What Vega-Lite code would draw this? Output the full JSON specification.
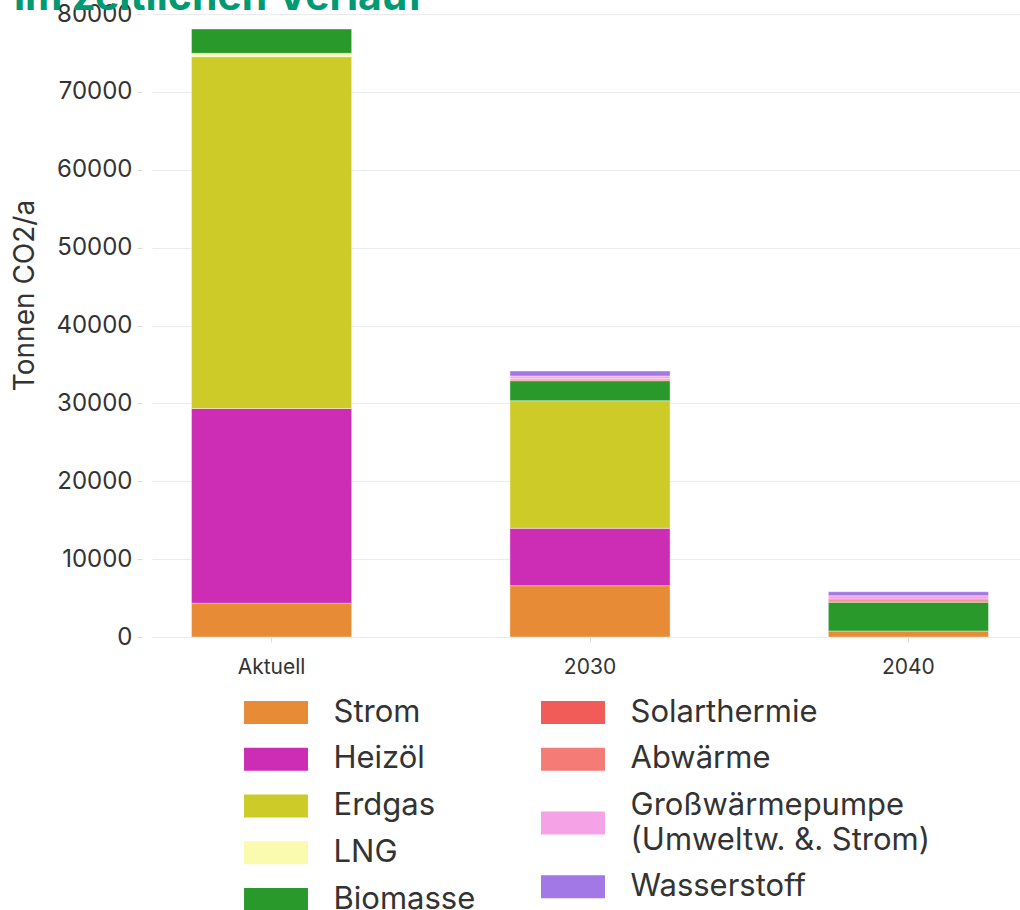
{
  "$schema": "https://vega.github.io/schema/vega-lite/v6.json",
  "width": 876,
  "height": 623,
  "autosize": {"type": "none"},
  "padding": {"left": 152, "top": 14, "right": -8, "bottom": 273},
  "background": "white",
  "config": {
    "font": "Inter",
    "view": {"stroke": null},
    "axis": {"labelColor": "#333333", "titleColor": "#333333", "titleFontWeight": "normal", "domain": false, "tickColor": "#dddddd", "tickSize": 5, "gridColor": "#ebebeb", "gridWidth": 1}
  },
  "title": {
    "text": "im zeitlichen Verlauf",
    "anchor": "start",
    "frame": "group",
    "orient": "top",
    "fontSize": 41,
    "fontWeight": "bold",
    "color": "#009a72",
    "baseline": "alphabetic",
    "offset": -49,
    "dx": -138
  },
  "data": {
    "values": [
      {"period": "Aktuell", "source": "Strom", "value": 4330, "rank": 1},
      {"period": "Aktuell", "source": "Heizöl", "value": 25010, "rank": 2},
      {"period": "Aktuell", "source": "Erdgas", "value": 45180, "rank": 3},
      {"period": "Aktuell", "source": "LNG", "value": 430, "rank": 4},
      {"period": "Aktuell", "source": "Biomasse", "value": 3120, "rank": 5},
      {"period": "2030", "source": "Strom", "value": 6590, "rank": 1},
      {"period": "2030", "source": "Heizöl", "value": 7370, "rank": 2},
      {"period": "2030", "source": "Erdgas", "value": 16380, "rank": 3},
      {"period": "2030", "source": "Biomasse", "value": 2570, "rank": 5},
      {"period": "2030", "source": "Solarthermie", "value": 120, "rank": 6},
      {"period": "2030", "source": "Abwärme", "value": 180, "rank": 7},
      {"period": "2030", "source": "Großwärmepumpe (Umweltw. &. Strom)", "value": 300, "rank": 8},
      {"period": "2030", "source": "Wasserstoff", "value": 640, "rank": 9},
      {"period": "2040", "source": "Strom", "value": 770, "rank": 1},
      {"period": "2040", "source": "Biomasse", "value": 3690, "rank": 5},
      {"period": "2040", "source": "Solarthermie", "value": 160, "rank": 6},
      {"period": "2040", "source": "Abwärme", "value": 260, "rank": 7},
      {"period": "2040", "source": "Großwärmepumpe (Umweltw. &. Strom)", "value": 420, "rank": 8},
      {"period": "2040", "source": "Wasserstoff", "value": 510, "rank": 9}
    ]
  },
  "encoding": {
    "x": {
      "field": "period",
      "type": "nominal",
      "sort": ["Aktuell", "2030", "2040"],
      "scale": {"paddingInner": 0.497, "paddingOuter": 0.124},
      "axis": {"title": null, "labelAngle": 0, "labelFontSize": 21, "labelPadding": 14, "grid": false}
    },
    "y": {
      "field": "value",
      "type": "quantitative",
      "scale": {"domain": [0, 80000], "nice": false},
      "axis": {
        "title": "Tonnen CO2/a",
        "titleFontSize": 28,
        "titleBaseline": "middle",
        "titleX": -117,
        "titleY": 281,
        "values": [0, 10000, 20000, 30000, 40000, 50000, 60000, 70000, 80000],
        "format": "d",
        "labelFontSize": 24,
        "labelPadding": 5,
        "offset": 10
      }
    }
  },
  "layer": [
    {
      "mark": {"type": "bar", "stroke": "white", "strokeWidth": 1, "strokeOpacity": 0.4},
      "encoding": {
        "color": {
          "field": "source",
          "type": "nominal",
          "scale": {
            "domain": ["Strom", "Heizöl", "Erdgas", "LNG", "Biomasse", "Solarthermie", "Abwärme", "Großwärmepumpe (Umweltw. &. Strom)", "Wasserstoff"],
            "range": ["#e78b36", "#cd2db4", "#cdcb28", "#fbfbb0", "#2a992b", "#f15b58", "#f57b77", "#f5a3e6", "#a277e6"]
          },
          "legend": null
        },
        "order": {"field": "rank", "type": "quantitative"}
      }
    },
    {
      "transform": [{"filter": {"field": "source", "oneOf": ["Strom", "Heizöl", "Erdgas", "LNG", "Biomasse"]}}],
      "mark": {"type": "bar", "opacity": 0},
      "encoding": {
        "color": {
          "field": "source",
          "type": "nominal",
          "scale": {
            "domain": ["Strom", "Heizöl", "Erdgas", "LNG", "Biomasse"],
            "range": ["#e78b36", "#cd2db4", "#cdcb28", "#fbfbb0", "#2a992b"]
          },
          "legend": {
            "orient": "none",
            "legendX": 88,
            "legendY": 683,
            "title": null,
            "direction": "vertical",
            "padding": 0,
            "symbolType": "M-2.78,-1H2.78V1H-2.78Z",
            "symbolSize": 529,
            "symbolOffset": 20.5,
            "symbolOpacity": 1,
            "symbolStrokeWidth": 0,
            "labelOffset": 42,
            "labelFontSize": 31,
            "labelColor": "#333333",
            "labelLimit": 400,
            "rowPadding": 14.75
          }
        },
        "order": {"field": "rank", "type": "quantitative"}
      }
    },
    {
      "transform": [{"filter": {"field": "source", "oneOf": ["Solarthermie", "Abwärme", "Großwärmepumpe (Umweltw. &. Strom)", "Wasserstoff"]}}],
      "mark": {"type": "bar", "opacity": 0},
      "encoding": {
        "color": {
          "field": "source",
          "type": "nominal",
          "scale": {
            "domain": ["Solarthermie", "Abwärme", "Großwärmepumpe (Umweltw. &. Strom)", "Wasserstoff"],
            "range": ["#f15b58", "#f57b77", "#f5a3e6", "#a277e6"]
          },
          "legend": {
            "orient": "none",
            "legendX": 385,
            "legendY": 683,
            "title": null,
            "direction": "vertical",
            "padding": 0,
            "symbolType": "M-2.78,-1H2.78V1H-2.78Z",
            "symbolSize": 529,
            "symbolOffset": 20.5,
            "symbolOpacity": 1,
            "symbolStrokeWidth": 0,
            "labelOffset": 42,
            "labelFontSize": 31,
            "labelColor": "#333333",
            "labelLimit": 500,
            "rowPadding": 14.75,
            "labelExpr": "datum.label == 'Großwärmepumpe (Umweltw. &. Strom)' ? ['Großwärmepumpe', '(Umweltw. &. Strom)'] : datum.label",
            "encode": {
              "labels": {
                "update": {
                  "lineHeight": {"value": 35},
                  "dy": {"signal": "datum.value == 'Großwärmepumpe (Umweltw. &. Strom)' ? -17.5 : 0"}
                }
              }
            }
          }
        },
        "order": {"field": "rank", "type": "quantitative"}
      }
    }
  ],
  "resolve": {"scale": {"color": "independent"}}
}
